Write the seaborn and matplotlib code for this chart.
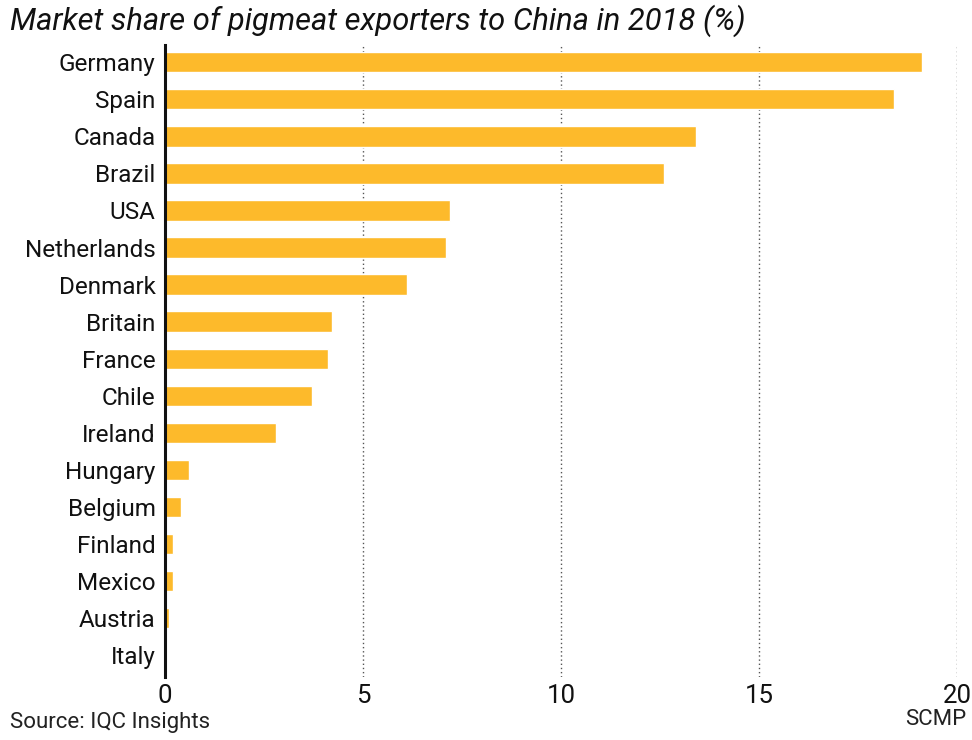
import pandas as pd
import matplotlib.pyplot as plt
import seaborn as sns

countries = ["Germany", "Spain", "Canada", "Brazil", "USA", "Netherlands", "Denmark",
             "Britain", "France", "Chile", "Ireland", "Hungary", "Belgium", "Finland",
             "Mexico", "Austria", "Italy"]
share = [19.1, 18.4, 13.4, 12.6, 7.2, 7.1, 6.1, 4.2, 4.1, 3.7, 2.8, 0.6, 0.4, 0.2, 0.2, 0.1, 0.0]
xticks = [0, 5, 10, 15, 20]

df = pd.DataFrame({"country": countries, "share": share})

sns.set_theme(style="white")
plt.rcParams["font.family"] = ["Roboto", "DejaVu Sans"]

fig = plt.figure(figsize=(9.72, 7.4), dpi=100)
ax = fig.add_axes([0.170, 0.085, 0.815, 0.854])

sns.barplot(data=df, x="share", y="country", color="#FDBA2B", saturation=1,
            width=0.55, ax=ax)

ax.set_xlim(0, 20)
ax.set_ylim(16.59, -0.46)
for x in xticks[1:]:
    ax.axvline(x, color="#555555", linestyle=(0, (1, 2)), linewidth=1.0, zorder=0)

ax.set_xticks(xticks)
ax.set_xticklabels([str(x) for x in xticks])
ax.tick_params(axis="both", length=0, colors="#111111")
ax.tick_params(axis="x", pad=5, labelsize=18.5)
ax.tick_params(axis="y", pad=7, labelsize=17.5)
ax.set_xlabel("")
ax.set_ylabel("")

for s in ["top", "right", "bottom"]:
    ax.spines[s].set_visible(False)
ax.spines["left"].set_color("#111111")
ax.spines["left"].set_linewidth(2.2)

fig.text(0.010, 0.972, "Market share of pigmeat exporters to China in 2018 (%)",
         fontsize=22.2, style="italic", ha="left", va="center", color="#111111")
fig.text(0.010, 0.024, "Source: IQC Insights", fontsize=16, ha="left", va="center",
         color="#222222")
fig.text(0.994, 0.028, "SCMP", fontsize=16, ha="right", va="center", color="#222222")

fig.savefig("out.png", dpi=100)
